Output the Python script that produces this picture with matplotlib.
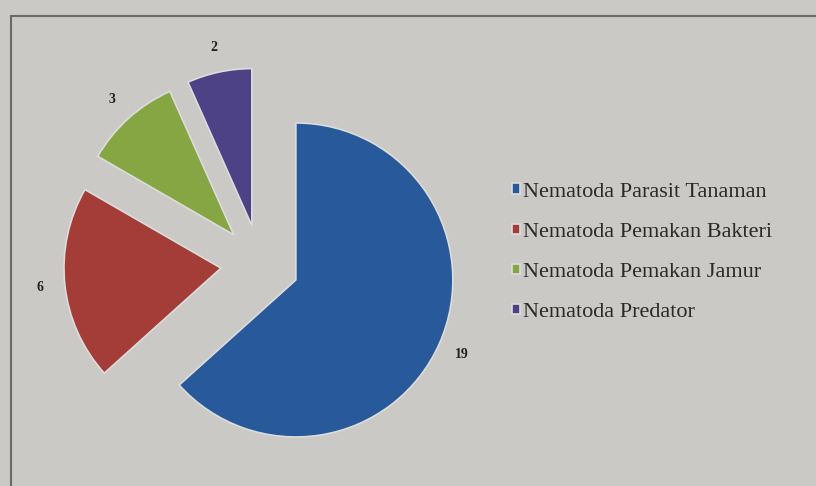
import matplotlib.pyplot as plt
from matplotlib.patches import Rectangle

# data
labels = ['Nematoda Parasit Tanaman', 'Nematoda Pemakan Bakteri',
          'Nematoda Pemakan Jamur', 'Nematoda Predator']
values = [19, 6, 3, 2]
colors = ['#28599a', '#a43d37', '#86a643', '#4c4285']

plt.rcParams['font.family'] = ['Liberation Serif', 'DejaVu Serif']

fig = plt.figure(figsize=(8.16, 4.86), dpi=100, facecolor='#cbc9c5')
ax = fig.add_axes([0, 0, 1, 1])
ax.set_facecolor('#cbc9c5')

# chart frame
fig.patches.append(Rectangle((0.013, -0.05), 1.1, 1.018, transform=fig.transFigure,
                             fill=False, edgecolor='#6a6a6a', linewidth=1.5))

R = 157.0
cx, cy = 260.0, 486 - 264.0
wedges, texts = ax.pie(values, colors=colors, startangle=90, counterclock=False,
                       explode=[0.25] * 4, labels=[str(v) for v in values],
                       labeldistance=1.16,
                       wedgeprops=dict(edgecolor='#dcdcdc', linewidth=1.2),
                       textprops=dict(fontsize=10, fontweight='bold', color='#222222'))
for t in texts:
    t.set_horizontalalignment('center')
    t.set_verticalalignment('center')

ax.set_xlim(-cx / R, (816 - cx) / R)
ax.set_ylim(-cy / R, (486 - cy) / R)
ax.set_aspect('auto')
ax.axis('off')

leg = fig.legend(wedges, labels, loc='upper left', bbox_to_anchor=(0.614, 0.647),
                 frameon=False, fontsize=16, handlelength=0.35, handleheight=0.35,
                 handletextpad=0.15, labelspacing=0.95, borderpad=0)
for t in leg.get_texts():
    t.set_color('#2a2a2a')

fig.savefig('out.png', dpi=100, facecolor=fig.get_facecolor())
